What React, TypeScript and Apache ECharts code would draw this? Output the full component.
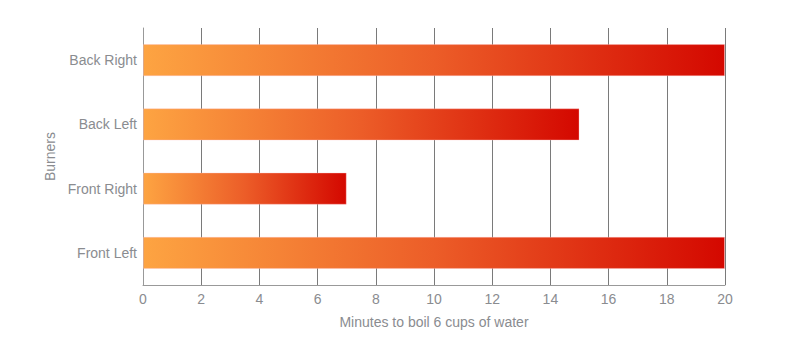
import React, { useEffect, useRef } from "react";
import * as echarts from "echarts";

const categories = ["Front Left", "Front Right", "Back Left", "Back Right"];
const minutes = [20, 7, 15, 20];
const xTicks = { min: 0, max: 20, interval: 2 };
const xName = "Minutes to boil 6 cups of water";
const yName = "Burners";

export default function App() {
  const ref = useRef<HTMLDivElement>(null);
  useEffect(() => {
    if (!ref.current) return;
    const chart = echarts.init(ref.current, null, { renderer: "svg" });
    const font = "'Liberation Sans', Arial, sans-serif";
    chart.setOption({
      animation: false,
      grid: { left: 135, right: 59, top: 20, bottom: 69, containLabel: false },
      xAxis: {
        type: "value",
        min: xTicks.min,
        max: xTicks.max,
        interval: xTicks.interval,
        name: xName,
        nameLocation: "middle",
        nameGap: 30,
        nameTextStyle: { color: "#8a8c90", fontSize: 14, fontFamily: font },
        axisLine: { show: true, lineStyle: { color: "#999", width: 1 } },
        axisTick: { show: false },
        axisLabel: { color: "#8a8c90", fontSize: 14, fontFamily: font, margin: 7 },
        splitLine: { show: true, lineStyle: { color: "#7a7a7a", width: 1 } },
      },
      yAxis: {
        type: "category",
        data: categories,
        name: yName,
        nameLocation: "middle",
        nameGap: 86,
        nameTextStyle: { color: "#8a8c90", fontSize: 14, fontFamily: font },
        axisLine: { show: true, lineStyle: { color: "#999", width: 1 } },
        axisTick: { show: false },
        axisLabel: { color: "#8a8c90", fontSize: 14, fontFamily: font, margin: 6 },
        splitLine: { show: false },
      },
      series: [
        {
          type: "bar",
          data: minutes,
          barWidth: "50%",
          itemStyle: {
            color: new echarts.graphic.LinearGradient(0, 0, 1, 0, [
              { offset: 0, color: "#fda442" },
              { offset: 0.5, color: "#ec5d28" },
              { offset: 1, color: "#d40800" },
            ]),
            borderColor: "rgba(255,190,190,0.35)",
            borderWidth: 1,
          },
        },
      ],
    });
    return () => chart.dispose();
  }, []);
  return <div ref={ref} style={{ width: 776, height: 346 }} />;
}
